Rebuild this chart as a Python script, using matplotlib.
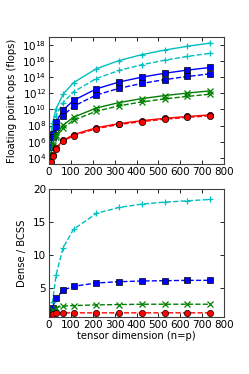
import matplotlib
matplotlib.use('Agg')
import matplotlib.pyplot as plt
import numpy as np

# tensor dimension n (= p)
dims = [8, 16, 32, 64, 112, 216, 320, 424, 528, 632, 736]

# log10 of flop counts, dense storage (solid lines)
dense_c = [6.47, 8.27, 10.08, 11.89, 13.34, 15.06, 16.08, 16.81, 17.38, 17.85, 18.25]
dense_b = [5.40, 6.91, 8.41, 9.92, 11.13, 12.56, 13.41, 14.02, 14.50, 14.89, 15.22]
dense_g = [4.45, 5.66, 6.86, 8.06, 9.04, 10.18, 10.86, 11.35, 11.73, 12.04, 12.31]
dense_r = [3.44, 4.34, 5.24, 6.15, 6.88, 7.73, 8.25, 8.61, 8.90, 9.13, 9.33]

# Dense / BCSS ratios
ratio_c = [1.6, 3.0, 7.0, 11.1, 13.9, 16.3, 17.2, 17.7, 18.0, 18.2, 18.4]
ratio_b = [1.0, 2.1, 3.5, 4.7, 5.3, 5.8, 6.0, 6.1, 6.15, 6.2, 6.2]
ratio_g = [1.3, 1.8, 2.1, 2.3, 2.4, 2.5, 2.55, 2.6, 2.6, 2.6, 2.6]
ratio_r = [1.0, 1.2, 1.3, 1.3, 1.3, 1.3, 1.3, 1.3, 1.3, 1.3, 1.3]

series = [
    (dense_c, ratio_c, (0, 0.75, 0.75), '+'),
    (dense_b, ratio_b, (0, 0, 1), 's'),
    (dense_g, ratio_g, (0, 0.5, 0), 'x'),
    (dense_r, ratio_r, (1, 0, 0), 'o'),
]

plt.rcParams['font.family'] = ['DejaVu Sans']
plt.rcParams['xtick.direction'] = 'in'
plt.rcParams['ytick.direction'] = 'in'
plt.rcParams['xtick.top'] = True
plt.rcParams['ytick.right'] = True

fig = plt.figure(figsize=(2.49, 3.74), dpi=100)
ax1 = fig.add_axes([0.197, 0.561, 0.703, 0.340])
ax2 = fig.add_axes([0.197, 0.152, 0.703, 0.343])

x = np.array(dims)
for dense, ratio, col, mk in series:
    d = 10.0 ** np.array(dense)
    r = np.array(ratio)
    filled = mk in ('s', 'o')
    kw = dict(marker=mk, color=col, markersize=4.5 if filled else 5,
              markeredgecolor='k' if filled else col,
              markeredgewidth=0.5 if filled else 0.9, linewidth=1.0)
    ax1.plot(x, d, '-', **kw)
    ax1.plot(x, d / r, '--', **kw)
    ax2.plot(x, r, '--', **kw)

ax1.set_yscale('log')
ax1.set_ylim(1.6e3, 1e19)
ax1.set_yticks([1e4, 1e6, 1e8, 1e10, 1e12, 1e14, 1e16, 1e18])
ax1.minorticks_off()
ax1.set_xlim(0, 800)
ax1.set_xticks(range(0, 801, 100))
ax1.set_ylabel('Floating point ops (flops)', fontsize=7.2)

ax2.set_xlim(0, 800)
ax2.set_xticks(range(0, 801, 100))
ax2.set_ylim(0.65, 20)
ax2.set_yticks([5, 10, 15, 20])
ax2.set_ylabel('Dense / BCSS', fontsize=7.2)
ax2.set_xlabel('tensor dimension (n=p)', fontsize=7.2, labelpad=1)

for ax in (ax1, ax2):
    ax.tick_params(labelsize=7.5, length=3, width=0.6, pad=2)
    for sp in ax.spines.values():
        sp.set_edgecolor('0.25')
        sp.set_linewidth(0.8)

fig.savefig('out.png', dpi=100)
